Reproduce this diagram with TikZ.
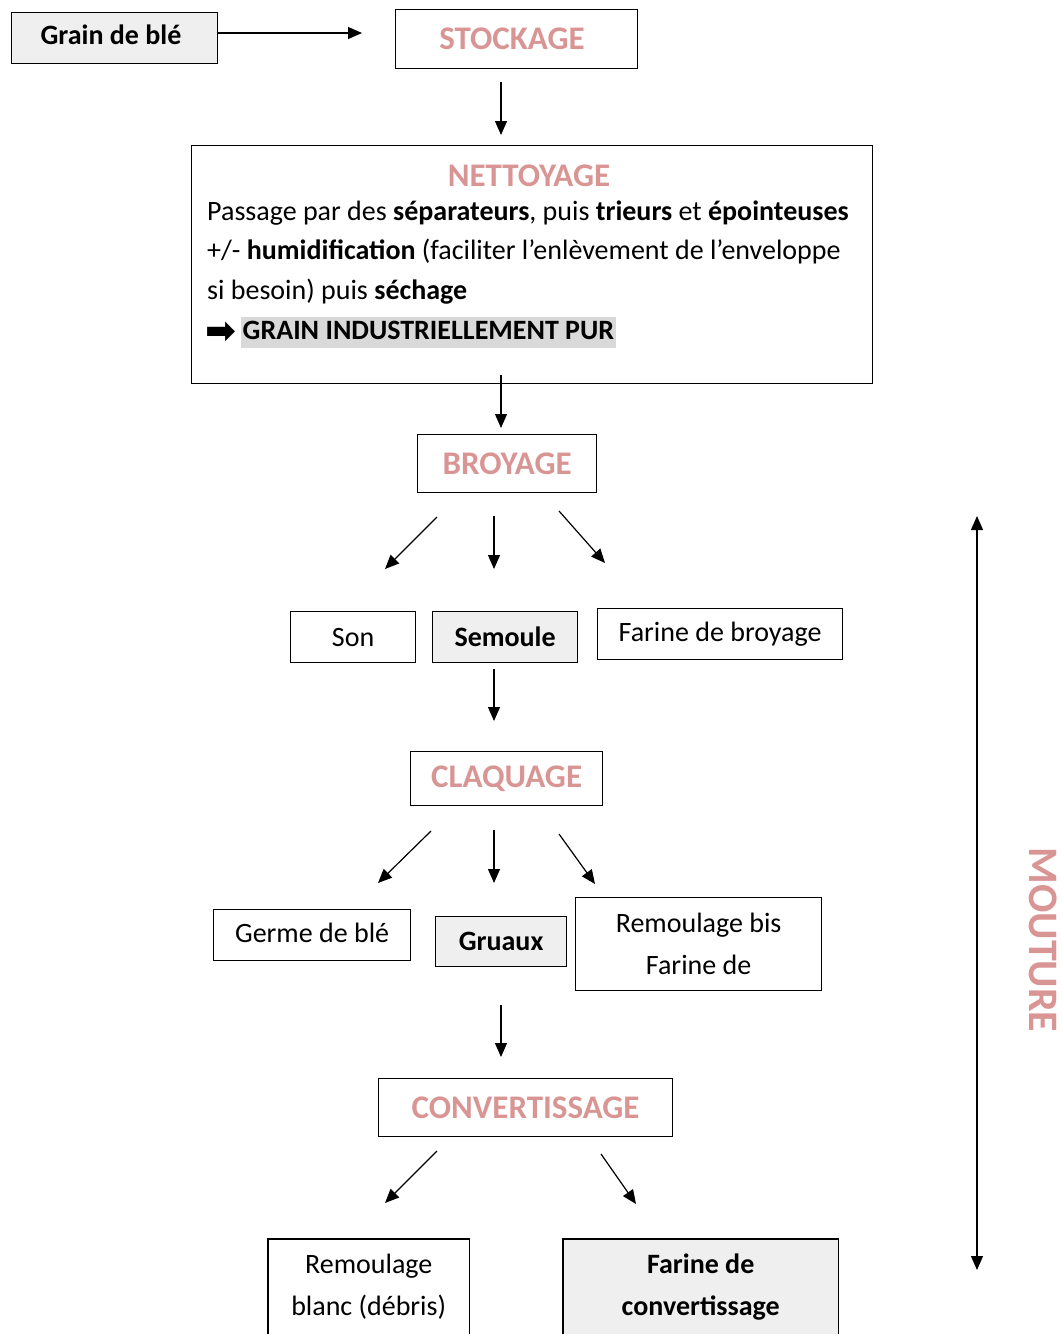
\documentclass[tikz,border=0pt]{standalone}
\usepackage{fontspec}
\setmainfont{Carlito}
\newfontfamily\dejavu{DejaVu Sans}
\usetikzlibrary{arrows.meta}
\definecolor{pinkt}{HTML}{D99594}
\definecolor{boxgray}{HTML}{EFEFEF}
\definecolor{hlgray}{HTML}{D9D9D9}
\newcommand\bodyfnt{\fontsize{28}{42}\selectfont}
\newcommand\titlefnt{\fontsize{33}{38}\selectfont\bfseries}
\newcommand\bigfnt{\fontsize{42}{48}\selectfont\bfseries}
\begin{document}
\begin{tikzpicture}[x=1pt,y=-1pt,
  bx/.style={draw=black, line width=1.2pt, inner sep=0pt, anchor=north west},
  gb/.style={bx, fill=boxgray},
  ttl/.style={font=\titlefnt, text=pinkt},
  lbl/.style={font=\bodyfnt},
  arr/.style={line width=1.2pt, -{Triangle[length=14pt,width=12pt]}},
  darr/.style={line width=1.2pt, {Triangle[length=14pt,width=12pt]}-{Triangle[length=14pt,width=12pt]}},
]
\useasboundingbox (0,0) rectangle (1061,1334);

% top row
\node[gb, minimum width=206pt, minimum height=51pt] (grain) at (11,12) {};
\node[font=\bodyfnt\bfseries] (graint) at (111,35) {Grain de blé};
\node[bx, minimum width=242pt, minimum height=59pt] (stock) at (395,9) {};
\node[ttl] (stockt) at (512,39) {STOCKAGE};
\coordinate (a1e) at (362,33);
\draw[arr] (grain.east |- a1e) -- (a1e);
\coordinate (a2s) at (501,82); \coordinate (a2e) at (501,135);
\draw[arr] (a2s) -- (a2e);

% nettoyage
\node[bx, minimum width=681pt, minimum height=238pt] (nett) at (191,145) {};
\node[ttl] (netttitle) at (529,176) {NETTOYAGE};
\node[lbl, anchor=base west, inner sep=0pt] (l1) at (207,220) {Passage par des \textbf{séparateurs}, puis \textbf{trieurs} et \textbf{épointeuses}};
\node[lbl, anchor=base west, inner sep=0pt] (l2) at (207,259) {+/- \textbf{humidification} (faciliter l’enlèvement de l’enveloppe};
\node[lbl, anchor=base west, inner sep=0pt] (l3) at (207,299) {si besoin) puis \textbf{séchage}};
\node[anchor=base west, inner sep=0pt, font=\fontsize{37}{40}\selectfont\dejavu\bfseries] (l4a) at (205,343) {➡};
\node[anchor=base west, inner xsep=1.5pt, inner ysep=2pt, text height=20pt, text depth=7pt, fill=hlgray, font=\bodyfnt\bfseries] (pur) at (241,339) {GRAIN INDUSTRIELLEMENT PUR};
\coordinate (a3s) at (501,375); \coordinate (a3e) at (501,428);
\draw[arr] (a3s) -- (a3e);

% broyage
\node[bx, minimum width=179pt, minimum height=58pt, ttl] (broy) at (417,434) {BROYAGE};
\coordinate (b1s) at (437,517); \coordinate (b1e) at (385,569);
\coordinate (b2s) at (494,516); \coordinate (b2e) at (494,569);
\coordinate (b3s) at (559,511); \coordinate (b3e) at (605,563);
\draw[arr] (b1s) -- (b1e);
\draw[arr] (b2s) -- (b2e);
\draw[arr] (b3s) -- (b3e);
\node[bx, minimum width=125pt, minimum height=51pt, lbl] (son) at (290,611) {Son};
\node[gb, minimum width=145pt, minimum height=51pt, lbl, font=\bodyfnt\bfseries] (sem) at (432,611) {Semoule};
\node[bx, minimum width=245pt, minimum height=51pt, lbl] (farb) at (597,608) {Farine de broyage};
\coordinate (c0s) at (494,669); \coordinate (c0e) at (494,721);
\draw[arr] (c0s) -- (c0e);

% claquage
\node[bx, minimum width=192pt, minimum height=54pt, ttl] (claq) at (410,751) {CLAQUAGE};
\coordinate (c1s) at (431,831); \coordinate (c1e) at (378,883);
\coordinate (c2s) at (494,830); \coordinate (c2e) at (494,883);
\coordinate (c3s) at (559,834); \coordinate (c3e) at (595,884);
\draw[arr] (c1s) -- (c1e);
\draw[arr] (c2s) -- (c2e);
\draw[arr] (c3s) -- (c3e);
\node[bx, minimum width=197pt, minimum height=51pt, lbl] (germe) at (213,909) {Germe de blé\vphantom{g}};
\node[gb, minimum width=131pt, minimum height=50pt, lbl, font=\bodyfnt\bfseries] (gru) at (435,916) {Gruaux};
\node[bx, minimum width=246pt, minimum height=93pt, lbl, align=center] (remb) at (575,897) {Remoulage bis\\Farine de};
\coordinate (d0s) at (501,1005); \coordinate (d0e) at (501,1057);
\draw[arr] (d0s) -- (d0e);

% convertissage
\node[bx, minimum width=294pt, minimum height=58pt, ttl] (conv) at (378,1078) {CONVERTISSAGE};
\coordinate (e1s) at (437,1151); \coordinate (e1e) at (385,1203);
\coordinate (e2s) at (601,1154); \coordinate (e2e) at (636,1204);
\draw[arr] (e1s) -- (e1e);
\draw[arr] (e2s) -- (e2e);
\node[anchor=north west, inner sep=0pt, minimum width=201pt, minimum height=95pt, lbl, align=center] (remw) at (268,1239) {Remoulage\\blanc (débris)};
\draw[line width=1.2pt] (remw.south west) -- (remw.north west) -- (remw.north east) -- (remw.south east);
\node[anchor=north west, inner sep=0pt, minimum width=275pt, minimum height=95pt, fill=boxgray, font=\bodyfnt\bfseries, align=center] (farc) at (563,1239) {Farine de\\convertissage};
\draw[line width=1.2pt] (farc.south west) -- (farc.north west) -- (farc.north east) -- (farc.south east);

% mouture
\coordinate (ms) at (977,516); \coordinate (me) at (977,1270);
\draw[darr] (ms) -- (me);
\node[rotate=-90, font=\bigfnt, text=pinkt] (mout) at (1043,940) {MOUTURE};
\end{tikzpicture}
\end{document}
